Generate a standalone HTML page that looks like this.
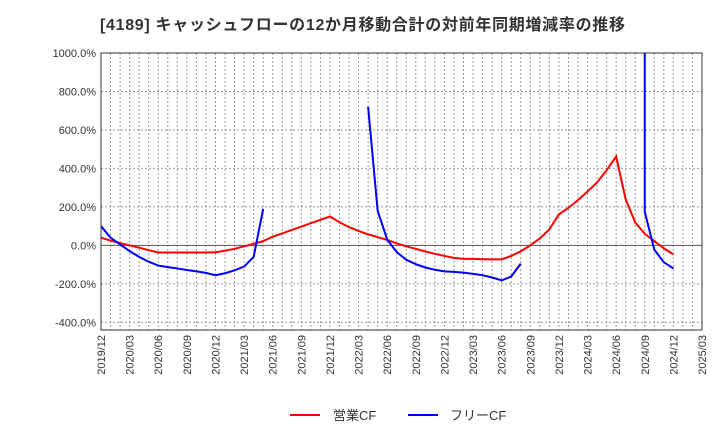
<!DOCTYPE html>
<html><head><meta charset="utf-8"><style>
body{margin:0;background:#fff;}
text{font-family:"Liberation Sans","Noto Sans CJK JP",sans-serif;}
</style></head><body>
<svg id="c" width="720" height="440" xmlns="http://www.w3.org/2000/svg">
<text x="100" y="30" font-size="16" font-weight="bold" fill="#333" textLength="525" lengthAdjust="spacing">[4189]  キャッシュフローの12か月移動合計の対前年同期増減率の推移</text>
<defs><clipPath id="pc"><rect x="101" y="53" width="601" height="277"/></clipPath></defs>
<g id="grid"></g><g id="series" clip-path="url(#pc)"></g><g id="axes"></g>
<g>
<line x1="290" y1="415" x2="320" y2="415" stroke="#f00" stroke-width="2"/>
<text x="333" y="420" font-size="13" fill="#333">営業CF</text>
<line x1="408" y1="415" x2="438" y2="415" stroke="#00f" stroke-width="2"/>
<text x="450" y="420" font-size="13" fill="#333">フリーCF</text>
</g>
</svg>
<script>
const yTicks=[1000,800,600,400,200,0,-200,-400];
const xLabels=["2019/12","2020/03","2020/06","2020/09","2020/12","2021/03","2021/06","2021/09","2021/12","2022/03","2022/06","2022/09","2022/12","2023/03","2023/06","2023/09","2023/12","2024/03","2024/06","2024/09","2024/12","2025/03"];
const redMonths=[0,1,2,3,4,5,6,7,8,9,10,11,12,13,14,15,16,17,18,19,20,21,22,23,24,25,26,27,28,29,30,31,32,33,34,35,36,37,38,39,40,41,42,43,44,45,46,47,48,49,50,51,52,53,54,55,56,57,58,59,60];
const redValues=[40,25,12,0,-12,-25,-37,-37,-37,-37,-37,-37,-36,-28,-18,-5,8,22,45,62,80,97,115,133,150,120,95,75,57,43,28,10,-5,-18,-32,-44,-55,-65,-70,-70,-72,-73,-73,-55,-31,0,36,83,161,195,235,280,327,390,462,239,119,60,22,-15,-47];
const blueSegments=[
 {months:[0,1,2,3,4,5,6,7,8,9,10,11,12,13,14,15,16,17],values:[100,40,5,-30,-60,-85,-105,-113,-120,-128,-135,-143,-155,-145,-130,-110,-60,190]},
 {months:[28,29,30,31,32,33,34,35,36,37,38,39,40,41,42,43,44],values:[720,180,30,-35,-75,-98,-115,-127,-135,-138,-142,-148,-155,-167,-182,-162,-95]},
 {months:[57,57,58,59,60],values:[5000,175,-22,-88,-120]}
];
const L=101,R=702,T=53,B=330,NM=63,YMIN=-440,YMAX=1000;
const xs=m=>L+(R-L)*m/NM;
const ys=v=>B-(B-T)*(v-YMIN)/(YMAX-YMIN);
const NS="http://www.w3.org/2000/svg";
function mk(tag,attrs,parent){const e=document.createElementNS(NS,tag);for(const k in attrs)e.setAttribute(k,attrs[k]);parent.appendChild(e);return e;}
const grid=document.getElementById('grid'),axes=document.getElementById('axes'),ser=document.getElementById('series');
for(let m=1;m<NM;m++){const l=mk('line',{x1:xs(m),x2:xs(m),y1:T,y2:B,stroke:'#999','stroke-width':1,'stroke-dasharray':'2,2'},grid);

}
yTicks.forEach(v=>{const y=ys(v);
const l=mk('line',{x1:L,x2:R,y1:y,y2:y,stroke:v===0?'#555':'#999','stroke-width':1,'stroke-dasharray':v===0?'none':'2,2'},grid);


const t=mk('text',{x:96,y:y+4,'font-size':11,fill:'#333','text-anchor':'end'},axes);t.textContent=v.toFixed(1)+'%';

});
xLabels.forEach((s,i)=>{const x=xs(i*3);
const t=mk('text',{x:0,y:0,'font-size':11,fill:'#333','text-anchor':'end',transform:`translate(${x+4},335) rotate(-90)`},axes);t.textContent=s;

});
const fr=mk('rect',{x:L,y:T,width:R-L,height:B-T,fill:'none',stroke:'#333','stroke-width':1},axes);


const rp=mk('polyline',{points:redMonths.map((m,i)=>xs(m)+','+ys(redValues[i])).join(' '),fill:'none',stroke:'#f00','stroke-width':2},ser);


blueSegments.forEach(sg=>{const p=mk('polyline',{points:sg.months.map((m,i)=>xs(m)+','+ys(sg.values[i])).join(' '),fill:'none',stroke:'#00f','stroke-width':2},ser);

});
</script>
</body></html>
